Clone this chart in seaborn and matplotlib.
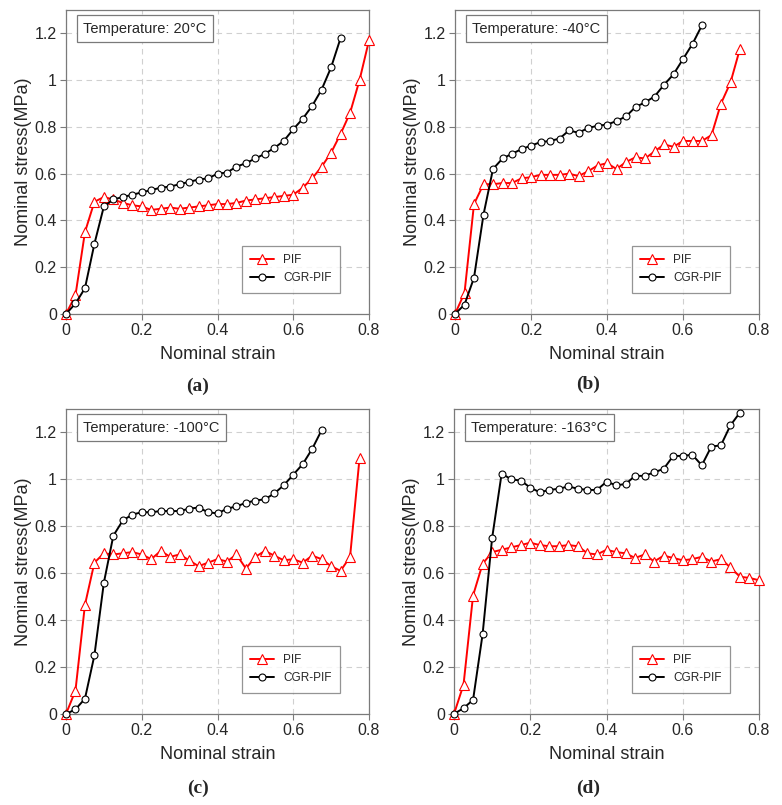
"""
Nominal stress-strain curves of PIF and CGR-PIF foams at four temperatures.
"""

import numpy as np
import pandas as pd
import matplotlib.pyplot as plt
import seaborn as sns
from matplotlib.ticker import FuncFormatter

# strain step between recorded points
STEP = 0.025

# panel (a) 20C
pif_20 = [0, 0.08, 0.35, 0.48, 0.50, 0.49, 0.475, 0.465, 0.46, 0.445, 0.45, 0.455, 0.45, 0.455,
          0.46, 0.465, 0.47, 0.47, 0.475, 0.485, 0.49, 0.495, 0.50, 0.505, 0.51, 0.54, 0.58,
          0.63, 0.69, 0.77, 0.86, 1.0, 1.17]
cgr_20 = [0, 0.045, 0.11, 0.30, 0.46, 0.49, 0.50, 0.51, 0.52, 0.53, 0.54, 0.545, 0.555, 0.565,
          0.575, 0.58, 0.60, 0.605, 0.63, 0.645, 0.665, 0.685, 0.71, 0.74, 0.79, 0.835, 0.89,
          0.96, 1.055, 1.18]

# panel (b) -40C
pif_m40 = [0, 0.09, 0.47, 0.555, 0.555, 0.56, 0.56, 0.58, 0.585, 0.595, 0.595, 0.595, 0.60,
           0.59, 0.61, 0.635, 0.645, 0.62, 0.65, 0.67, 0.665, 0.695, 0.725, 0.715, 0.74, 0.74,
           0.74, 0.765, 0.90, 0.99, 1.135]
cgr_m40 = [0, 0.04, 0.155, 0.425, 0.62, 0.665, 0.685, 0.705, 0.72, 0.735, 0.74, 0.75, 0.785,
           0.775, 0.795, 0.805, 0.81, 0.825, 0.845, 0.885, 0.905, 0.93, 0.98, 1.025, 1.09,
           1.155, 1.235]

# panel (c) -100C
pif_m100 = [0, 0.10, 0.465, 0.645, 0.685, 0.68, 0.685, 0.69, 0.68, 0.66, 0.695, 0.67, 0.68,
            0.655, 0.63, 0.645, 0.66, 0.65, 0.68, 0.62, 0.67, 0.695, 0.675, 0.655, 0.66, 0.645,
            0.675, 0.66, 0.63, 0.61, 0.67, 1.09]
cgr_m100 = [0, 0.02, 0.065, 0.25, 0.56, 0.76, 0.825, 0.85, 0.86, 0.86, 0.865, 0.865, 0.865,
            0.875, 0.88, 0.86, 0.855, 0.875, 0.885, 0.90, 0.91, 0.915, 0.94, 0.975, 1.02,
            1.065, 1.13, 1.21]

# panel (d) -163C
pif_m163 = [0, 0.125, 0.505, 0.64, 0.69, 0.70, 0.71, 0.72, 0.73, 0.72, 0.715, 0.715, 0.72,
            0.715, 0.685, 0.68, 0.70, 0.69, 0.685, 0.665, 0.68, 0.65, 0.675, 0.665, 0.655,
            0.66, 0.67, 0.65, 0.66, 0.625, 0.585, 0.58, 0.57]
cgr_m163 = [0, 0.025, 0.06, 0.34, 0.75, 1.025, 1.00, 0.995, 0.965, 0.945, 0.955, 0.96, 0.97,
            0.96, 0.955, 0.955, 0.99, 0.975, 0.98, 1.015, 1.015, 1.03, 1.045, 1.10, 1.10,
            1.105, 1.06, 1.14, 1.145, 1.23, 1.285]

temperatures = ['20', '-40', '-100', '-163']
panel_labels = ['a', 'b', 'c', 'd']
pif_series = [pif_20, pif_m40, pif_m100, pif_m163]
cgr_series = [cgr_20, cgr_m40, cgr_m100, cgr_m163]

x_ticks = [0, 0.2, 0.4, 0.6, 0.8]
y_ticks = [0, 0.2, 0.4, 0.6, 0.8, 1.0, 1.2]


def to_frame(values, name):
    strain = np.arange(len(values)) * STEP
    return pd.DataFrame({'strain': strain, 'stress': values, 'sample': name})


sns.set_style('ticks')
plt.rcParams['font.family'] = ['Liberation Sans', 'DejaVu Sans']

fig = plt.figure(figsize=(7.82, 8.05), dpi=100)

# axes rectangles in pixels: left, top, right, bottom
boxes = [(66, 10, 369, 314), (455, 10, 759, 314), (66, 409, 369, 714), (454, 409, 759, 714)]
label_pos = [(198, 386), (588, 384), (198, 788), (588, 788)]
W, H = 782, 805

frame_grey = '#7a7a7a'

for i in range(4):
    l, t, r, b = boxes[i]
    ax = fig.add_axes([l / W, (H - b) / H, (r - l) / W, (b - t) / H])

    pif = to_frame(pif_series[i], 'PIF')
    cgr = to_frame(cgr_series[i], 'CGR-PIF')

    sns.lineplot(data=pif, x='strain', y='stress', ax=ax, color='red', marker='^',
                 markersize=6.5, markerfacecolor='white', markeredgecolor='red',
                 markeredgewidth=0.8, linewidth=1.4, estimator=None, sort=False,
                 label='PIF', clip_on=False, zorder=3)
    sns.lineplot(data=cgr, x='strain', y='stress', ax=ax, color='black', marker='o',
                 markersize=5, markerfacecolor='white', markeredgecolor='black',
                 markeredgewidth=0.8, linewidth=1.4, estimator=None, sort=False,
                 label='CGR-PIF', clip_on=False, zorder=3)

    ax.set_xlim(0, 0.8)
    ax.set_ylim(0, 1.3)
    ax.set_xticks(x_ticks)
    ax.set_yticks(y_ticks)
    fmt = FuncFormatter(lambda v, p: f'{v:g}')
    ax.xaxis.set_major_formatter(fmt)
    ax.yaxis.set_major_formatter(fmt)
    ax.tick_params(labelsize=11.5, length=4, color=frame_grey, width=0.8, pad=2.5)
    ax.grid(True, linestyle=(0, (5, 4)), color='#d0d0d0', linewidth=0.8)
    ax.set_axisbelow(True)
    for s in ax.spines.values():
        s.set_visible(True)
        s.set_color(frame_grey)
        s.set_linewidth(0.9)

    ax.set_xlabel('Nominal strain', fontsize=13, labelpad=6)
    ax.set_ylabel('Nominal stress(MPa)', fontsize=13, labelpad=2)

    ax.text(0.057, 0.962, f'Temperature: {temperatures[i]}°C', transform=ax.transAxes,
            ha='left', va='top', fontsize=10.5,
            bbox=dict(boxstyle='square,pad=0.45', facecolor='white',
                      edgecolor=frame_grey, linewidth=0.9))

    leg = ax.legend(loc='lower right', bbox_to_anchor=(0.905, 0.07), borderaxespad=0,
                    fontsize=8.5, frameon=True, fancybox=False, handlelength=2.0,
                    borderpad=0.7, labelspacing=0.55)
    leg.get_frame().set_edgecolor(frame_grey)
    leg.get_frame().set_linewidth(0.9)

    lx, ly = label_pos[i]
    fig.text(lx / W, (H - ly) / H, f'({panel_labels[i]})', ha='center', va='center',
             fontsize=14, fontweight='bold', family='Liberation Serif')

fig.savefig('out.png', dpi=100)
